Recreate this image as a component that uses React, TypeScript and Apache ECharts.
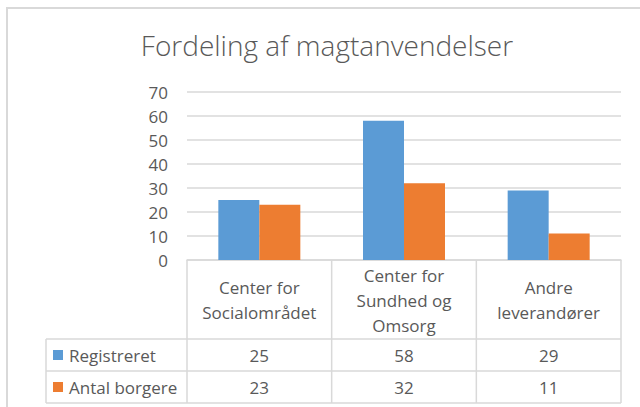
import React, { useEffect, useRef } from "react";
import * as echarts from "echarts";

const TITLE = "Fordeling af magtanvendelser";
const categories = ["Center for\nSocialområdet", "Center for\nSundhed og\nOmsorg", "Andre\nleverandører"];
const seriesNames = ["Registreret", "Antal borgere"];
const registreret = [25, 58, 29];
const antalBorgere = [23, 32, 11];
const colors = ["#5B9BD5", "#ED7D31"];
const yTicks = { min: 0, max: 70, interval: 10 };

const W = 640;
const H = 407;
const GRID = { left: 187, right: 19, top: 92, bottom: 147 };
const FONT = "'Open Sans', 'Noto Sans', sans-serif";
const TEXT = "#595959";
const LINE = "#d9d9d9";

export default function App() {
  const ref = useRef<HTMLDivElement>(null);
  useEffect(() => {
    if (!ref.current) return;
    const chart = echarts.init(ref.current, undefined, { renderer: "svg" });

    const plotL = GRID.left;
    const plotR = W - GRID.right;
    const axisY = H - GRID.bottom;
    const cellW = (plotR - plotL) / categories.length;
    const headerBottom = 339;
    const rowH = 32;
    const tableLeft = 46;
    const rows = [registreret, antalBorgere];
    const tableBottom = headerBottom + rowH * rows.length;

    const graphics: any[] = [];
    graphics.push({
      type: "rect",
      shape: { x: 7, y: 8, width: 700, height: 500 },
      style: { fill: "none", stroke: LINE, lineWidth: 2 },
      silent: true,
    });
    graphics.push({
      type: "text",
      x: 327,
      y: 45,
      style: {
        text: TITLE,
        fill: TEXT,
        font: `300 28px ${FONT}`,
        textAlign: "center",
        textVerticalAlign: "middle",
      },
    });
    for (let i = 0; i <= categories.length; i++) {
      const x = plotL + i * cellW;
      graphics.push({
        type: "line",
        shape: { x1: x, y1: axisY, x2: x, y2: tableBottom },
        style: { stroke: LINE, lineWidth: 1.5 },
      });
    }
    graphics.push({
      type: "line",
      shape: { x1: tableLeft, y1: headerBottom, x2: tableLeft, y2: tableBottom },
      style: { stroke: LINE, lineWidth: 1.5 },
    });
    for (let r = 0; r <= rows.length; r++) {
      const y = headerBottom + r * rowH;
      graphics.push({
        type: "line",
        shape: { x1: tableLeft, y1: y, x2: plotR, y2: y },
        style: { stroke: LINE, lineWidth: 1.5 },
      });
    }
    rows.forEach((vals, r) => {
      const cy = headerBottom + r * rowH + rowH / 2;
      graphics.push({
        type: "rect",
        shape: { x: 53, y: cy - 5, width: 10, height: 10 },
        style: { fill: colors[r] },
      });
      graphics.push({
        type: "text",
        x: 69,
        y: cy,
        style: {
          text: seriesNames[r],
          fill: TEXT,
          font: `17px ${FONT}`,
          textAlign: "left",
          textVerticalAlign: "middle",
        },
      });
      vals.forEach((v, i) => {
        graphics.push({
          type: "text",
          x: plotL + (i + 0.5) * cellW,
          y: cy,
          style: {
            text: String(v),
            fill: TEXT,
            font: `17px ${FONT}`,
            textAlign: "center",
            textVerticalAlign: "middle",
          },
        });
      });
    });

    chart.setOption({
      animation: false,
      backgroundColor: "#ffffff",
      textStyle: { fontFamily: FONT },
      grid: { ...GRID, containLabel: false },
      xAxis: {
        type: "category",
        data: categories,
        axisLine: { show: true, lineStyle: { color: LINE, width: 1.5 } },
        axisTick: { show: false },
        axisLabel: {
          color: TEXT,
          fontSize: 17,
          fontFamily: FONT,
          lineHeight: 25,
          margin: 40,
          verticalAlign: "middle",
          interval: 0,
        },
      },
      yAxis: {
        type: "value",
        min: yTicks.min,
        max: yTicks.max,
        interval: yTicks.interval,
        axisLine: { show: false },
        axisTick: { show: false },
        splitLine: { lineStyle: { color: LINE, width: 1.5 } },
        axisLabel: { color: TEXT, fontSize: 17, fontFamily: FONT, margin: 19 },
      },
      series: [
        {
          name: seriesNames[0],
          type: "bar",
          data: registreret,
          barWidth: 41,
          barGap: "0%",
          itemStyle: { color: colors[0] },
        },
        {
          name: seriesNames[1],
          type: "bar",
          data: antalBorgere,
          barWidth: 41,
          barGap: "0%",
          itemStyle: { color: colors[1] },
        },
      ],
      graphic: graphics,
    });
    return () => chart.dispose();
  }, []);
  return (
    <div
      ref={ref}
      style={{ position: "fixed", left: 0, top: 0, width: W, height: H }}
    />
  );
}
